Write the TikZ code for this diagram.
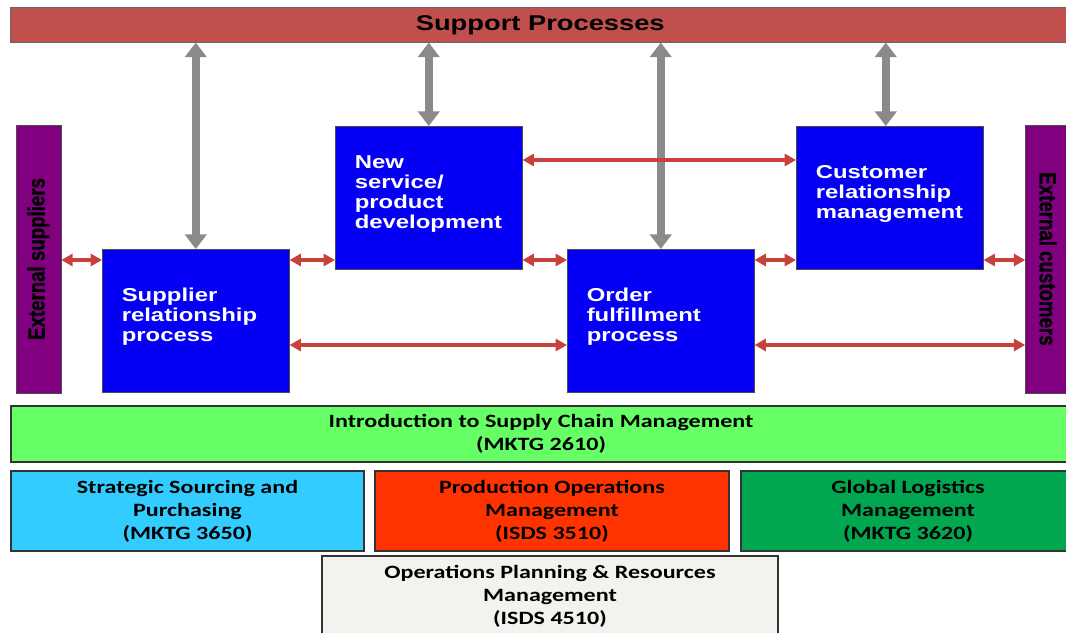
\documentclass[tikz,border=0pt]{standalone}
\usepackage{fontspec}
\usepackage{xcolor}
\usepackage{tikz}
\usetikzlibrary{positioning,arrows.meta}
\newfontfamily\procfont{Liberation Sans}[FakeStretch=1.28]
\newfontfamily\sidefont{Liberation Sans}[FakeStretch=0.8,FakeBold=1.2]
\newfontfamily\coursefont{Carlito}[FakeStretch=1.28]
\definecolor{supportred}{RGB}{192,80,77}
\definecolor{procblue}{RGB}{5,0,245}
\definecolor{extpurple}{RGB}{128,0,128}
\definecolor{flowred}{RGB}{200,66,60}
\definecolor{backgray}{RGB}{138,138,138}
\definecolor{introgreen}{RGB}{102,255,102}
\definecolor{sourcecyan}{RGB}{51,204,255}
\definecolor{prodred}{RGB}{255,51,0}
\definecolor{logigreen}{RGB}{0,166,80}
\definecolor{planwhite}{RGB}{244,242,238}

\begin{document}
\begin{tikzpicture}[
    x=0.75pt, y=-0.75pt,
    mainbox/.style={draw=black!70, fill=procblue, anchor=north west, text=white,
        align=left, text width=111pt, inner xsep=14.6pt, inner ysep=0pt,
        minimum width=140.25pt, minimum height=107.5pt, text height=4pt,
        font=\procfont\bfseries\fontsize{14}{15}\selectfont},
    sidebox/.style={draw=black!70, fill=extpurple, inner sep=0pt,
        minimum width=33.75pt, minimum height=201pt,
        font=\sidefont\bfseries\fontsize{17.5}{20}\selectfont},
    course/.style={draw=black!80, line width=1.5pt, anchor=north west, align=center,
        inner sep=0pt, minimum height=60pt,
        font=\coursefont\bfseries\fontsize{14.1}{17.25}\selectfont},
    flow/.style={draw=flowred, line width=2.5pt,
        arrows={Triangle[width=9pt,length=8.5pt]-Triangle[width=9pt,length=8.5pt]}},
    back/.style={draw=backgray, line width=6pt,
        arrows={Triangle[width=16pt,length=11pt]-Triangle[width=16pt,length=11pt]}}
]
    \useasboundingbox (0,0) rectangle (1066,632);

    % support bar and side boxes
    \node[draw=black!60, fill=supportred, anchor=north west, inner sep=0pt,
        minimum width=795pt, minimum height=26.25pt,
        font=\procfont\bfseries\fontsize{16}{18}\selectfont] (support) at (10,7) {Support Processes};
    \node[sidebox] (extsup) at (38.5,259) {\rotatebox{90}{External suppliers}};
    \node[sidebox] (extcus) at (1048,259) {\rotatebox{-90}{External customers}};

    % process boxes
    \node[mainbox] (srp) at (102,249) {Supplier\\relationship\\process};
    \node[mainbox] (nspd) at (335,126) {New\\service/\\product\\development};
    \node[mainbox] (ofp) at (567,249) {Order\\fulfillment\\process};
    \node[mainbox] (crm) at (796,126) {Customer\\relationship\\management};

    % rows of the red links
    \coordinate (rowtop) at (0,160);
    \coordinate (rowmid) at (0,260);
    \coordinate (rowlow) at (0,345);

    \draw[back] (srp.north |- support.south) -- (srp.north);
    \draw[back] (nspd.north |- support.south) -- (nspd.north);
    \draw[back] (ofp.north |- support.south) -- (ofp.north);
    \draw[back] ([xshift=-3pt]crm.north |- support.south) -- ([xshift=-3pt]crm.north);

    \draw[flow] (extsup.east |- rowmid) -- (srp.west |- rowmid);
    \draw[flow] (srp.east |- rowmid) -- (nspd.west |- rowmid);
    \draw[flow] (nspd.east |- rowmid) -- (ofp.west |- rowmid);
    \draw[flow] (ofp.east |- rowmid) -- (crm.west |- rowmid);
    \draw[flow] (crm.east |- rowmid) -- (extcus.west |- rowmid);
    \draw[flow] (nspd.east |- rowtop) -- (crm.west |- rowtop);
    \draw[flow] (srp.east |- rowlow) -- (ofp.west |- rowlow);
    \draw[flow] (ofp.east |- rowlow) -- (extcus.west |- rowlow);

    % courses
    \node[course, fill=introgreen, minimum width=795pt, minimum height=42pt] (intro) at (10,405)
        {Introduction to Supply Chain Management\\(MKTG 2610)};
    \node[course, fill=sourcecyan, minimum width=264.75pt] (ssp) at (10,470)
        {Strategic Sourcing and\\Purchasing\\(MKTG 3650)};
    \node[course, fill=prodred, minimum width=265.5pt, right=6.75pt of ssp] (pom)
        {Production Operations\\Management\\(ISDS 3510)};
    \node[course, fill=logigreen, minimum width=250.5pt, right=7.5pt of pom] (glm)
        {Global Logistics\\Management\\(MKTG 3620)};
    \node[course, fill=planwhite, minimum width=342pt, minimum height=61pt] (opr) at (321,555)
        {Operations Planning \& Resources\\Management\\(ISDS 4510)};
\end{tikzpicture}
\end{document}
